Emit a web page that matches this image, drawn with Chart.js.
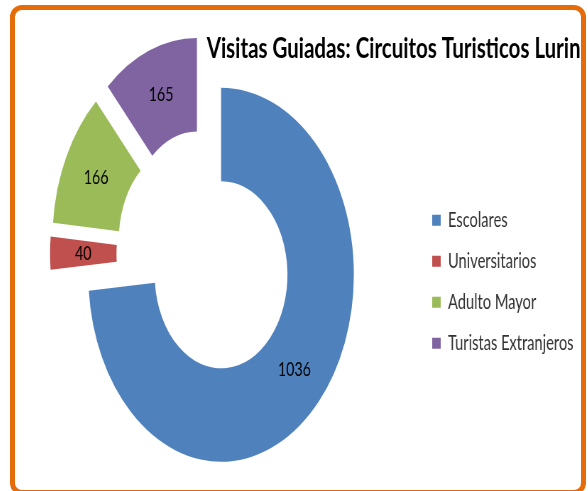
<!DOCTYPE html>
<html>
<head>
<meta charset="utf-8">
<script src="https://cdn.jsdelivr.net/npm/chart.js@4.4.1/dist/chart.umd.min.js"></script>
<style>
  html, body { margin: 0; padding: 0; background: #fff; }
  body { width: 588px; height: 491px; position: relative; overflow: hidden; }
  /* the chart is laid out wide and then narrowed, like the condensed original */
  .stretch { position: absolute; left: -7.8px; top: 0; width: 839px; height: 491px; transform: scaleX(0.71); transform-origin: 0 0; }
  .frame { position: absolute; left: 10px; top: 5px; width: 576px; height: 490px; box-sizing: border-box; border: 5px solid #E46C0A; border-radius: 12px; pointer-events: none; }
</style>
</head>
<body>
<div class="stretch"><canvas id="visitasChart"></canvas></div>
<div class="frame"></div>
<script>
// --- DATA ---
const titulo = 'Visitas Guiadas: Circuitos Turisticos Lurin';
const categorias = ['Escolares', 'Universitarios', 'Adulto Mayor', 'Turistas Extranjeros'];
const visitas = [1036, 40, 166, 165];
const colores = ['#4F81BD', '#C0504D', '#9BBB59', '#8064A2'];

// distance every slice is pulled out from the centre (px)
const EXPLODE = 31;

// --- EXPLODED ARC ---
// Chart.js offset also grows the radius of small slices, so the arc is
// simply moved out along its middle angle instead
class ExplodedArc extends Chart.ArcElement {
  draw(ctx) {
    const mid = (this.startAngle + this.endAngle) / 2;
    const d = this.options.explode || 0;
    ctx.save();
    ctx.translate(Math.cos(mid) * d, Math.sin(mid) * d);
    super.draw(ctx);
    ctx.restore();
  }
}
ExplodedArc.id = 'explodedArc';
ExplodedArc.defaults = Object.assign({}, Chart.ArcElement.defaults, { explode: 0 });
Chart.register(ExplodedArc);
Chart.defaults.datasets.doughnut.dataElementType = 'explodedArc';

// --- VALUE LABELS (middle of each ring slice) ---
const etiquetas = {
  id: 'etiquetas',
  afterDatasetsDraw(chart) {
    const ctx = chart.ctx;
    const values = chart.data.datasets[0].data;
    ctx.save();
    ctx.font = '20px Lato';
    ctx.fillStyle = '#000';
    ctx.textAlign = 'center';
    ctx.textBaseline = 'middle';
    chart.getDatasetMeta(0).data.forEach((arc, i) => {
      const p = arc.getProps(['x', 'y', 'startAngle', 'endAngle', 'innerRadius', 'outerRadius'], true);
      const mid = (p.startAngle + p.endAngle) / 2;
      const r = (p.innerRadius + p.outerRadius) / 2 + (arc.options.explode || 0);
      ctx.fillText(String(values[i]), p.x + Math.cos(mid) * r, p.y + Math.sin(mid) * r);
    });
    ctx.restore();
  }
};

// --- CHART ---
const ctx = document.getElementById('visitasChart').getContext('2d');
new Chart(ctx, {
  type: 'doughnut',
  data: {
    labels: categorias,
    datasets: [{
      data: visitas,
      backgroundColor: colores,
      borderWidth: 0,
      explode: EXPLODE,
      radius: 187,
      cutout: '50%'
    }]
  },
  options: {
    responsive: true,
    maintainAspectRatio: false,
    animation: false,
    events: [],
    layout: { padding: { left: 0, right: 10, top: 10, bottom: 49 } },
    plugins: {
      tooltip: { enabled: false },
      title: {
        display: true,
        text: titulo,
        align: 'end',
        color: '#000',
        font: { family: 'Lato', size: 28.9, weight: 'bold' },
        padding: { top: 21, bottom: 0 }
      },
      legend: {
        position: 'right',
        fullSize: false,
        align: 'center',
        // empty title only pushes the entries down
        title: { display: true, text: '', font: { size: 10 }, padding: { top: 44, bottom: 0 } },
        labels: {
          boxWidth: 12,
          boxHeight: 11,
          padding: 20.4,
          color: '#333',
          font: { family: 'Lato', size: 20.6 }
        }
      }
    }
  },
  plugins: [etiquetas]
});
</script>
</body>
</html>
